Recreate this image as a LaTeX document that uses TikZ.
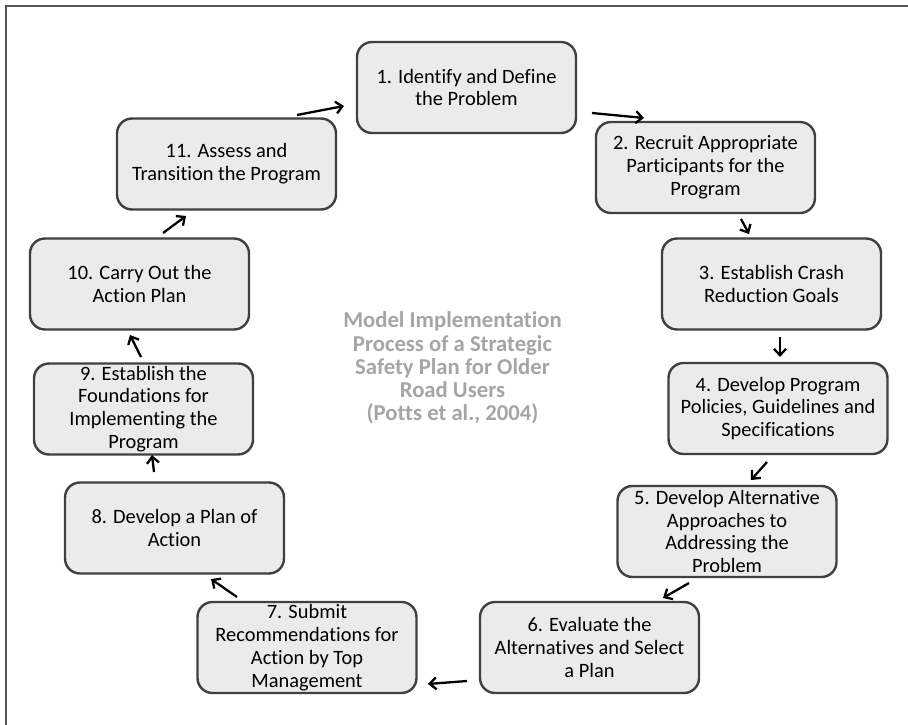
\documentclass[tikz,border=0pt]{standalone}
\usepackage{fontspec}
\setmainfont{Carlito}[Ligatures=NoCommon,RawFeature={-liga;-clig;-dlig}]
\usetikzlibrary{arrows.meta}
\definecolor{boxfill}{HTML}{EBEBEB}
\definecolor{boxline}{HTML}{404040}
\definecolor{framegrey}{HTML}{555555}
\definecolor{titlegrey}{HTML}{A5A5A5}

\begin{document}
\begin{tikzpicture}[x=1pt,y=-1pt,
  stage/.style={draw=boxline, line width=2.4pt, fill=boxfill,
    rounded corners=15pt, align=center, inner sep=0pt,
    minimum width=219pt, minimum height=91pt,
    font=\fontsize{20.4}{22.8}\selectfont},
  flow/.style={-{Straight Barb[length=6.5pt,width=12pt,line width=2.3pt]}, line width=2.3pt, black},
  frame/.style={draw=framegrey, line width=2pt}]

% page extent
\useasboundingbox (0,0) rectangle (908,725);

% open frame along the top and left edges
\coordinate (fTL) at (6,6);
\coordinate (fTR) at (908,6);
\coordinate (fBL) at (6,725);
\draw[frame] (fTR) -- (fTL) -- (fBL);

% the eleven stages
\node[stage] (s1)  at (466.5,87.5) {1. Identify and Define\\the Problem};
\node[stage] (s2)  at (705.5,167.5) {2. Recruit Appropriate\\Participants for the\\Program};
\node[stage] (s3)  at (771.5,284) {3. Establish Crash\\Reduction Goals};
\node[stage] (s4)  at (778,408.5) {4. Develop Program\\Policies, Guidelines and\\Specifications};
\node[stage] (s5)  at (727,531.5) {5. Develop Alternative\\Approaches to\\Addressing the\\Problem};
\node[stage] (s6)  at (589.5,647.5) {6. Evaluate the\\Alternatives and Select\\a Plan};
\node[stage] (s7)  at (307,647.5) {7. Submit\\Recommendations for\\Action by Top\\Management};
\node[stage] (s8)  at (174.5,528) {8. Develop a Plan of\\Action};
\node[stage] (s9)  at (143.5,409) {9. Establish the\\Foundations for\\Implementing the\\Program};
\node[stage] (s10) at (139.5,284) {10. Carry Out the\\Action Plan};
\node[stage] (s11) at (226.5,164) {11. Assess and\\Transition the Program};

% centre title
\node[align=center, text=titlegrey, font=\fontsize{22.7}{23.2}\selectfont\bfseries] (title) at (452.5,368)
  {Model Implementation\\Process of a Strategic\\Safety Plan for Older\\Road Users\\(Potts et al., 2004)};

% connector ends between consecutive stages
\coordinate (a1s)  at (297,115);  \coordinate (a1e)  at (344,106);
\coordinate (a2s)  at (592,113);  \coordinate (a2e)  at (644,118);
\coordinate (a3s)  at (741,219);  \coordinate (a3e)  at (749,234);
\coordinate (a4s)  at (780,337);  \coordinate (a4e)  at (780,357);
\coordinate (a5s)  at (767,462);  \coordinate (a5e)  at (751,480);
\coordinate (a6s)  at (689,583);  \coordinate (a6e)  at (663,598);
\coordinate (a7s)  at (467,681);  \coordinate (a7e)  at (428,684);
\coordinate (a8s)  at (237,597);  \coordinate (a8e)  at (211,579);
\coordinate (a9s)  at (154,472);  \coordinate (a9e)  at (152,455);
\coordinate (a10s) at (141,357);  \coordinate (a10e) at (130,335);
\coordinate (a11s) at (163,233);  \coordinate (a11e) at (186,216);

\draw[flow] (a1s) -- (a1e);
\draw[flow] (a2s) -- (a2e);
\draw[flow] (a3s) -- (a3e);
\draw[flow] (a4s) -- (a4e);
\draw[flow] (a5s) -- (a5e);
\draw[flow] (a6s) -- (a6e);
\draw[flow] (a7s) -- (a7e);
\draw[flow] (a8s) -- (a8e);
\draw[flow] (a9s) -- (a9e);
\draw[flow] (a10s) -- (a10e);
\draw[flow] (a11s) -- (a11e);
\end{tikzpicture}
\end{document}
